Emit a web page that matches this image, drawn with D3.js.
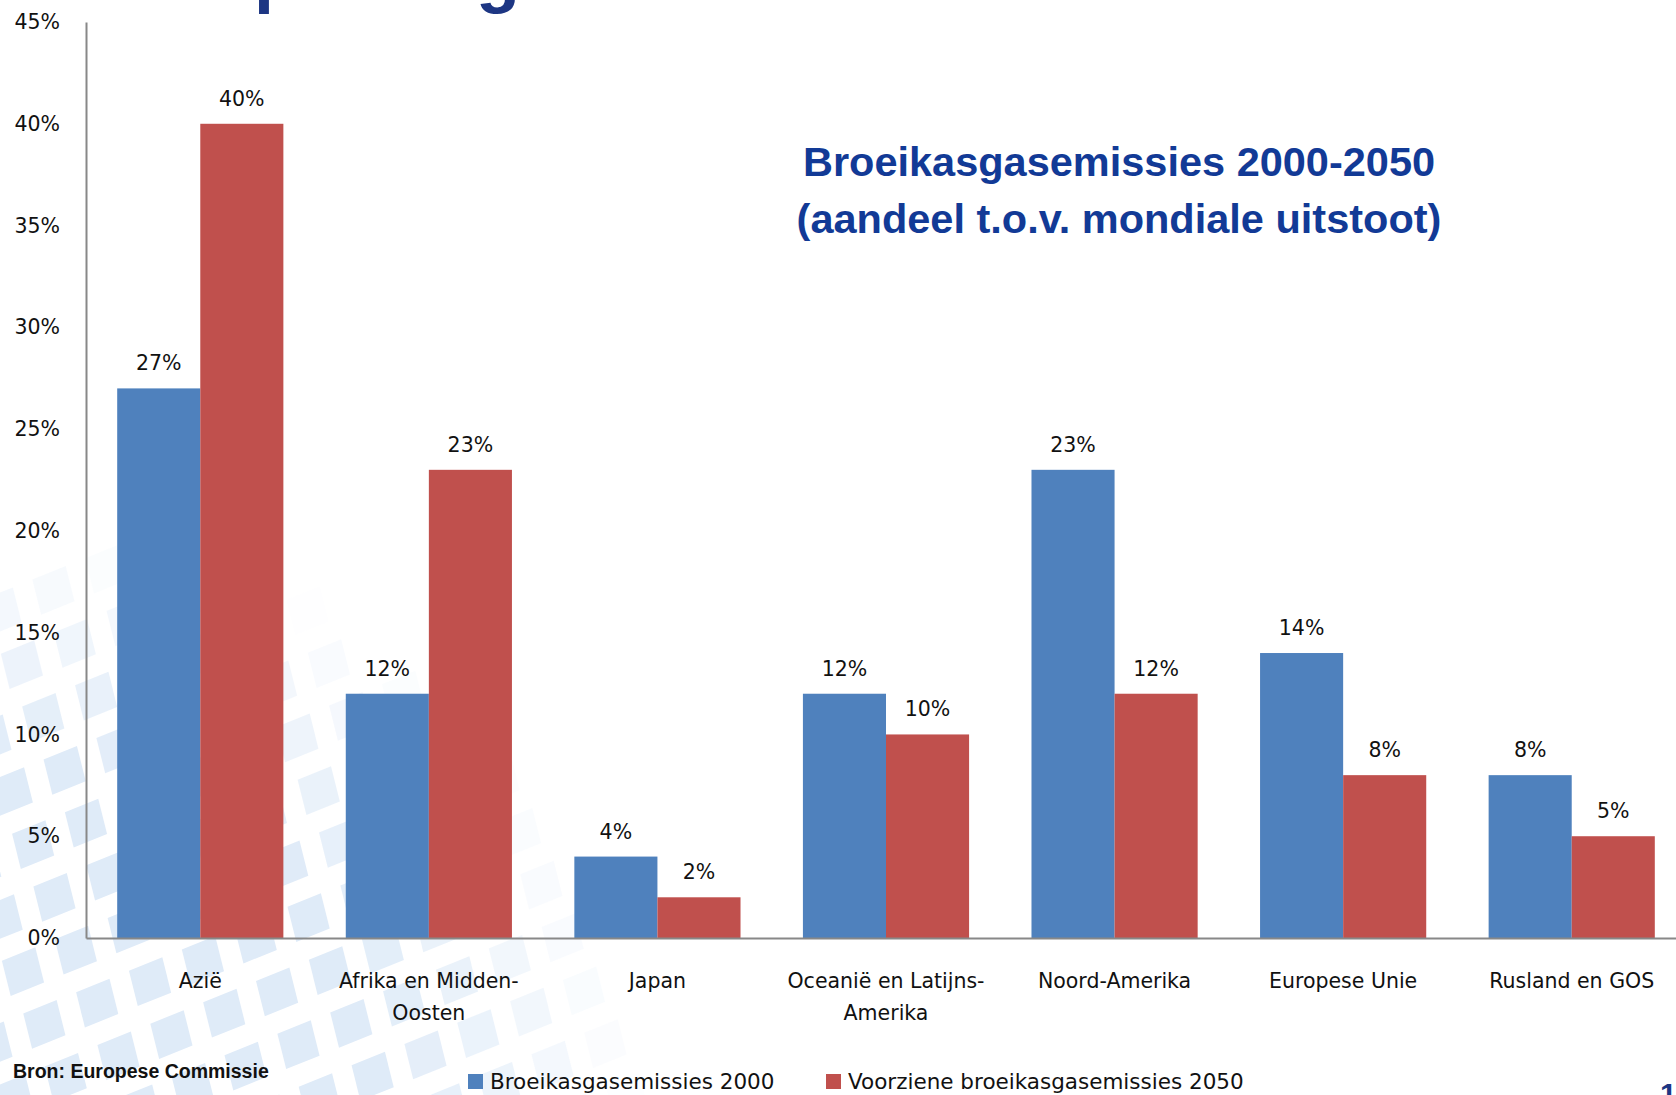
<!DOCTYPE html>
<html>
<head>
<meta charset="utf-8">
<script src="https://cdn.jsdelivr.net/npm/d3@7"></script>
<style>
  body { margin: 0; background: #fff; }
  svg { display: block; font-family: "DejaVu Sans", sans-serif; }
</style>
</head>
<body>
<svg id="chart"></svg>
<script>
var categories = ['Azië', 'Afrika en Midden-Oosten', 'Japan', 'Oceanië en Latijns-Amerika', 'Noord-Amerika', 'Europese Unie', 'Rusland en GOS']
var categoryLines = [['Azië'], ['Afrika en Midden-', 'Oosten'], ['Japan'], ['Oceanië en Latijns-', 'Amerika'], ['Noord-Amerika'], ['Europese Unie'], ['Rusland en GOS']]
var seriesNames = ['Broeikasgasemissies 2000', 'Voorziene broeikasgasemissies 2050']
var emissions2000 = [27, 12, 4, 12, 23, 14, 8]
var emissions2050 = [40, 23, 2, 10, 12, 8, 5]
var yTicks = [0, 5, 10, 15, 20, 25, 30, 35, 40, 45]
var titleLines = ['Broeikasgasemissies 2000-2050', '(aandeel t.o.v. mondiale uitstoot)']
var sourceText = 'Bron: Europese Commissie'

var width = 1676, height = 1095
var colors = ['#4f81bd', '#c0504d']
var blueText = '#123a96'
var sans = '"Liberation Sans", Arial, sans-serif'

var svg = d3.select('#chart')
    .attr('width', width)
    .attr('height', height)

// faint square pattern in the lower left corner (slide background)
var bg = svg.append('g')
var ang = -22 * Math.PI / 180
for (var i = -4; i < 22; i++) {
    for (var j = -18; j < 6; j++) {
        var lx = i * 57, ly = j * 57
        var sx = -40 + lx * Math.cos(ang) - ly * Math.sin(ang)
        var sy = 1120 + lx * Math.sin(ang) + ly * Math.cos(ang)
        // elliptical fade from the bottom-left corner
        var dist = Math.sqrt((sx / 640) * (sx / 640) + ((sy - 1095) / 560) * ((sy - 1095) / 560))
        var f = 1 - dist
        if (f <= 0) continue
        bg.append('rect')
            .attr('x', -18).attr('y', -18)
            .attr('width', 36).attr('height', 36)
            .attr('transform', 'translate(' + sx + ',' + sy + ') rotate(-22) skewX(-8)')
            .attr('fill', '#dfebf8')
            .attr('opacity', Math.min(1, f * 2.5))
    }
}

// cut-off slide title above the chart
svg.append('text').attr('x', 254).attr('y', -1).text('p')
    .style('font-family', sans).attr('font-weight', 'bold').attr('font-size', 72).attr('fill', '#1d3683')
svg.append('text').attr('x', 476).attr('y', -1).text('g')
    .style('font-family', sans).attr('font-weight', 'bold').attr('font-size', 72).attr('fill', '#1d3683')

var x0 = d3.scaleBand()
    .domain(categories)
    .range([86, 1686])
    .paddingInner(0.273)
    .paddingOuter(0.1365)

var x1 = d3.scaleBand()
    .domain([0, 1])
    .range([0, x0.bandwidth()])

var y = d3.scaleLinear()
    .domain([0, 45])
    .range([938, 22])

var rows = categories.map(function (c, i) {
    return { cat: c, values: [emissions2000[i], emissions2050[i]] }
})

// y axis
var yAxis = d3.axisLeft(y)
    .tickValues(yTicks)
    .tickSize(0)
    .tickPadding(26)
    .tickFormat(function (d) { return d + '%' })

var gy = svg.append('g')
    .attr('transform', 'translate(86,0)')
    .call(yAxis)
    .attr('font-family', null)
    .attr('font-size', null)
gy.select('.domain').attr('stroke', '#888').attr('stroke-width', 2)
gy.selectAll('text')
    .attr('font-size', 20.5)
    .attr('fill', '#111')

// bars
var groups = svg.selectAll('g.cat')
    .data(rows)
    .enter()
    .append('g')
    .attr('class', 'cat')
    .attr('transform', function (d) { return 'translate(' + x0(d.cat) + ',0)' })

groups.selectAll('rect')
    .data(function (d) { return d.values })
    .enter()
    .append('rect')
    .attr('x', function (d, i) { return x1(i) })
    .attr('y', function (d) { return y(d) })
    .attr('width', x1.bandwidth())
    .attr('height', function (d) { return y(0) - y(d) })
    .attr('fill', function (d, i) { return colors[i] })

groups.selectAll('text.val')
    .data(function (d) { return d.values })
    .enter()
    .append('text')
    .attr('class', 'val')
    .attr('x', function (d, i) { return x1(i) + x1.bandwidth() / 2 })
    .attr('y', function (d) { return y(d) - 18 })
    .attr('text-anchor', 'middle')
    .attr('font-size', 20.5)
    .attr('fill', '#111')
    .text(function (d) { return d + '%' })

// x axis baseline
var xAxis = d3.axisBottom(x0).tickSize(0).tickFormat('')
var gx = svg.append('g')
    .attr('transform', 'translate(0,' + y(0) + ')')
    .call(xAxis)
gx.select('.domain').attr('stroke', '#888').attr('stroke-width', 2)

// category labels
svg.selectAll('text.cat-label')
    .data(categories)
    .enter()
    .append('text')
    .attr('class', 'cat-label')
    .attr('text-anchor', 'middle')
    .attr('font-size', 20.5)
    .attr('fill', '#111')
    .each(function (d, i) {
        var t = d3.select(this)
        categoryLines[i].forEach(function (line, k) {
            t.append('tspan')
                .attr('x', x0(d) + x0.bandwidth() / 2)
                .attr('y', 988 + k * 32)
                .text(line)
        })
    })

// chart title
svg.selectAll('text.title')
    .data(titleLines)
    .enter()
    .append('text')
    .attr('class', 'title')
    .attr('x', 1119)
    .attr('y', function (d, i) { return 176 + i * 57 })
    .attr('text-anchor', 'middle')
    .style('font-family', sans)
    .attr('font-weight', 'bold')
    .attr('font-size', 41.5)
    .attr('fill', blueText)
    .text(function (d) { return d })

// source
svg.append('text')
    .attr('x', 13)
    .attr('y', 1078)
    .style('font-family', sans)
    .attr('font-weight', 'bold')
    .attr('font-size', 19.5)
    .attr('fill', '#111')
    .text(sourceText)

// legend
var legendX = [468, 826]
var legend = svg.selectAll('g.legend')
    .data(seriesNames)
    .enter()
    .append('g')
    .attr('class', 'legend')
    .attr('transform', function (d, i) { return 'translate(' + legendX[i] + ',1074)' })
legend.append('rect')
    .attr('width', 15).attr('height', 15)
    .attr('fill', function (d, i) { return colors[i] })
legend.append('text')
    .attr('x', 22)
    .attr('y', 15)
    .attr('font-size', 21.5)
    .attr('fill', '#111')
    .text(function (d) { return d })

// page number, cut off at the bottom edge
svg.append('text')
    .attr('x', 1660)
    .attr('y', 1104)
    .style('font-family', sans)
    .attr('font-weight', 'bold')
    .attr('font-size', 30)
    .attr('fill', '#1d3683')
    .text('1')
</script>
</body>
</html>
